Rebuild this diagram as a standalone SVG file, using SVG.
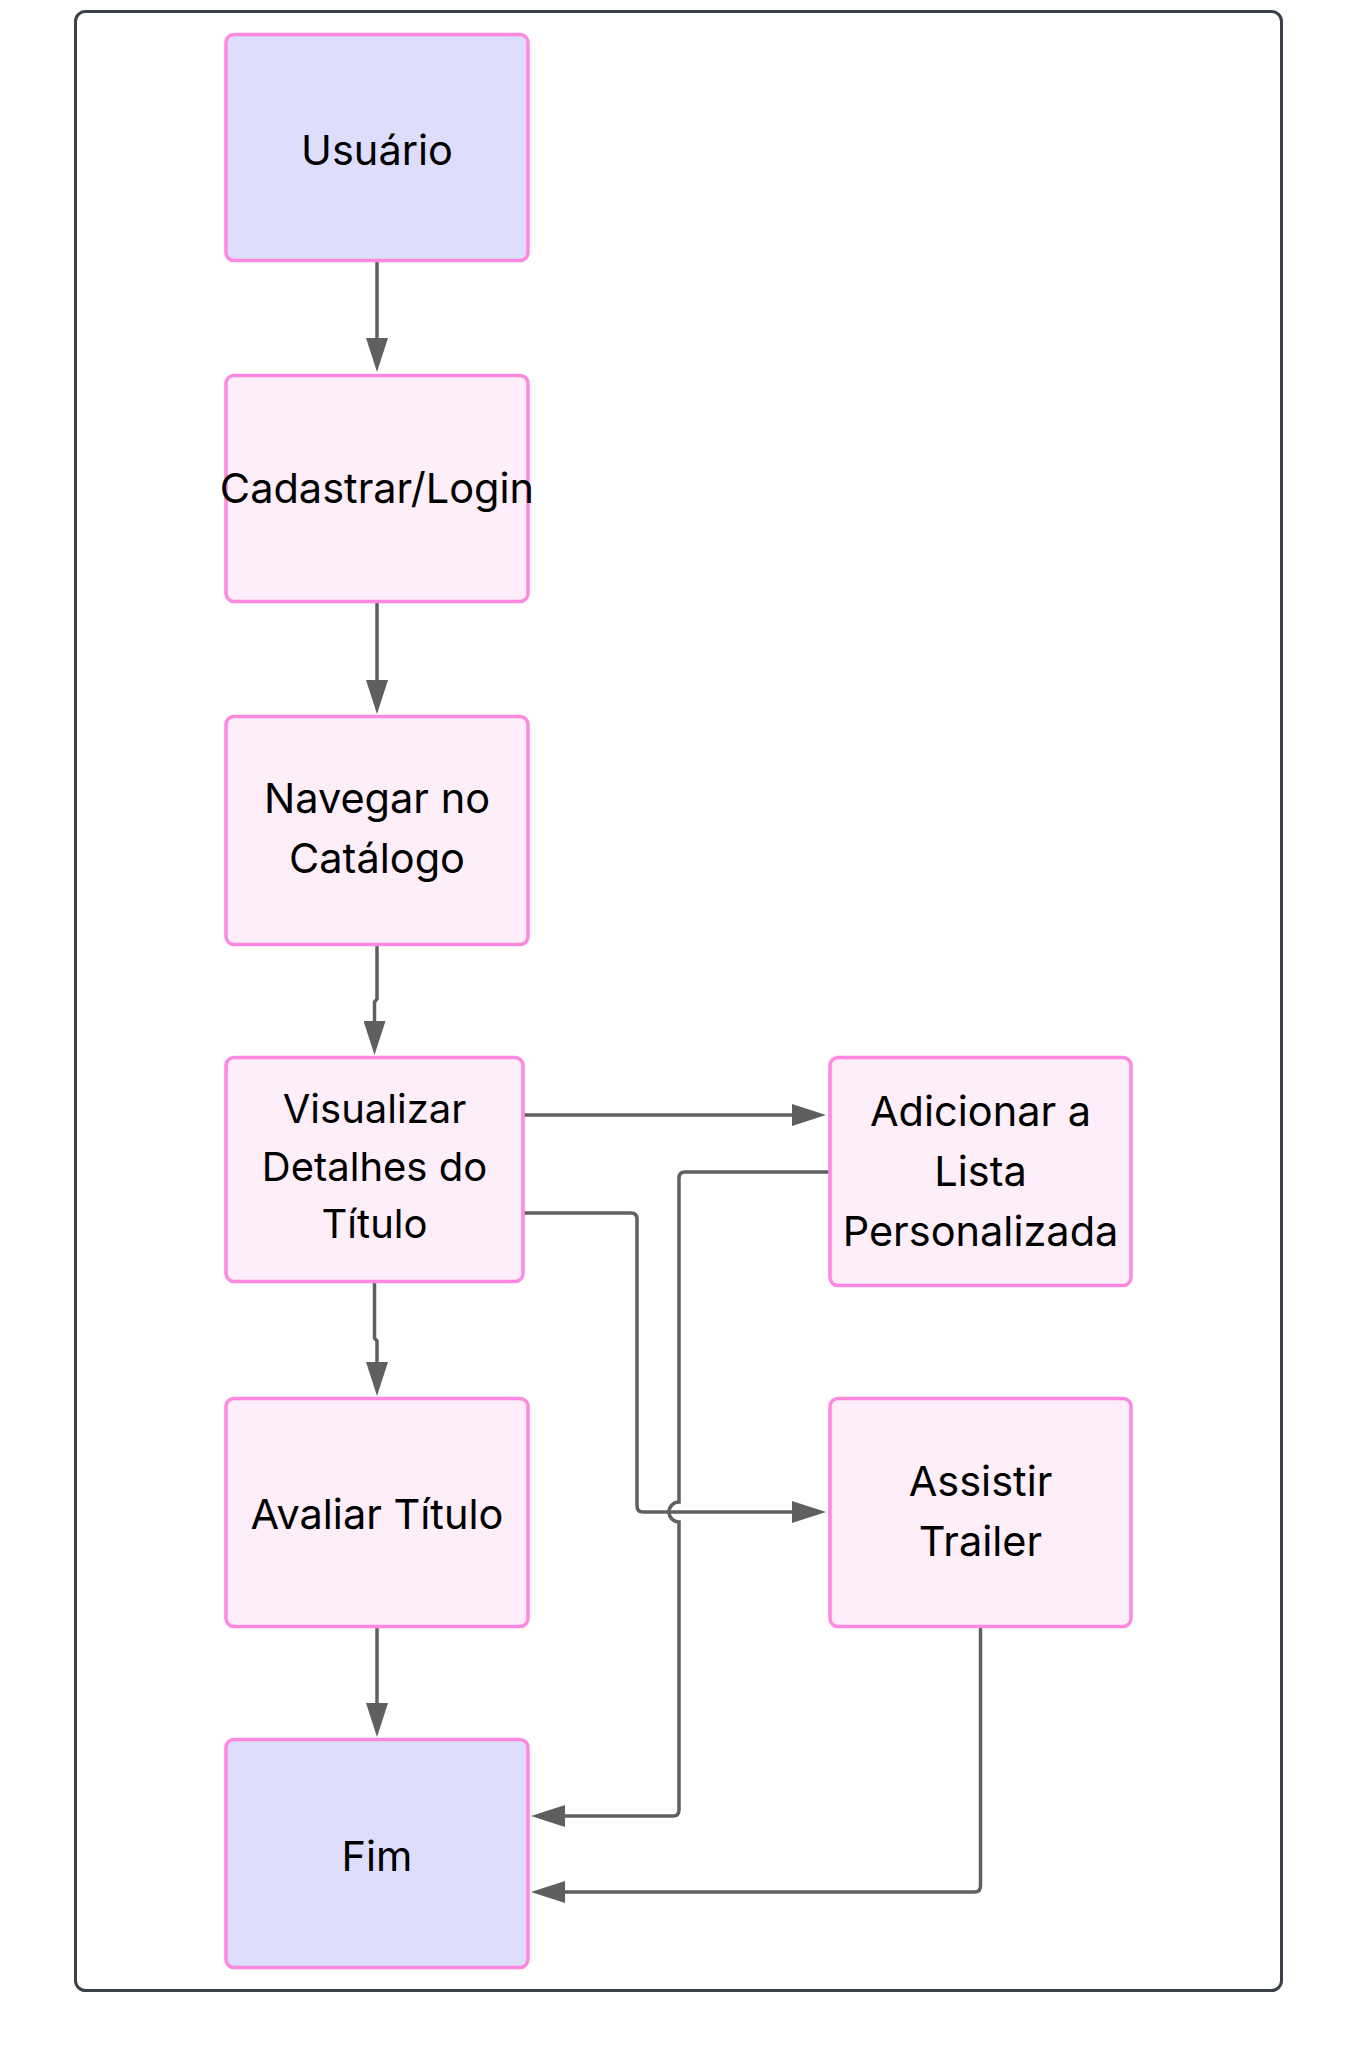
<svg xmlns="http://www.w3.org/2000/svg" width="1358" height="2066" viewBox="0 0 1358 2066">
<style>
.frame{fill:#ffffff;stroke:#3c4048;stroke-width:3}
.n{fill:#fdeef9;stroke:#ff88e0;stroke-width:3.5}
.t{fill:#dedefc;stroke:#ff88e0;stroke-width:3.5}
.lbl{font-family:Inter,"Noto Sans","Liberation Sans",sans-serif;font-size:41.5px;fill:#000;text-anchor:middle}
.sm{font-size:40px}
.e{fill:none;stroke:#606060;stroke-width:3.5;marker-end:url(#arr)}
</style>
<defs>
<marker id="arr" markerUnits="userSpaceOnUse" markerWidth="34" markerHeight="22" refX="0" refY="11" orient="auto">
<path d="M0,0 L34,11 L0,22 Z" fill="#5f5f5f"/>
</marker>
</defs>
<rect class="frame" x="75.5" y="11.5" width="1206" height="1979" rx="10"/>
<g id="connectors">
<path class="e" d="M377,262 L377,338"/>
<path class="e" d="M377,603 L377,680"/>
<path class="e" d="M377,946 L377,999 L374.5,1002 L374.5,1021"/>
<path class="e" d="M374.5,1282 L374.5,1338 L377,1341 L377,1362"/>
<path class="e" d="M377,1627 L377,1703"/>
<path class="e" d="M524,1115 L792,1115"/>
<path class="e" d="M524,1213 L631,1213 Q637,1213 637,1219 L637,1506 Q637,1512 643,1512 L792,1512"/>
<path class="e" d="M829,1172 L685,1172 Q679,1172 679,1178 L679,1502 A10,10 0 0 0 679,1522 L679,1810 Q679,1816 673,1816 L565,1816"/>
<path class="e" d="M980.5,1627 L980.5,1886 Q980.5,1892 974.5,1892 L565,1892"/>
</g>
<g id="usuario">
<rect class="t" x="226" y="34.5" width="302" height="226" rx="8"/>
<text class="lbl" x="377" y="165">Usuário</text>
</g>
<g id="cadastrar">
<rect class="n" x="226" y="375.5" width="302" height="226" rx="8"/>
<text class="lbl" x="377" y="503">Cadastrar/Login</text>
</g>
<g id="navegar">
<rect class="n" x="226" y="716.5" width="302" height="228" rx="8"/>
<text class="lbl" x="377" y="813">Navegar no</text>
<text class="lbl" x="377" y="873">Catálogo</text>
</g>
<g id="visualizar">
<rect class="n" x="226" y="1057.5" width="297" height="224" rx="8"/>
<text class="lbl sm" x="374.5" y="1123">Visualizar</text>
<text class="lbl sm" x="374.5" y="1181">Detalhes do</text>
<text class="lbl sm" x="374.5" y="1238">Título</text>
</g>
<g id="adicionar">
<rect class="n" x="830" y="1057.5" width="301" height="228" rx="8"/>
<text class="lbl" x="980.5" y="1126">Adicionar a</text>
<text class="lbl" x="980.5" y="1186">Lista</text>
<text class="lbl" x="980.5" y="1246">Personalizada</text>
</g>
<g id="avaliar">
<rect class="n" x="226" y="1398.5" width="302" height="228" rx="8"/>
<text class="lbl" x="377" y="1529">Avaliar Título</text>
</g>
<g id="assistir">
<rect class="n" x="830" y="1398.5" width="301" height="228" rx="8"/>
<text class="lbl" x="980.5" y="1496">Assistir</text>
<text class="lbl" x="980.5" y="1556">Trailer</text>
</g>
<g id="fim">
<rect class="t" x="226" y="1739.5" width="302" height="228" rx="8"/>
<text class="lbl" x="377" y="1871">Fim</text>
</g>
</svg>
